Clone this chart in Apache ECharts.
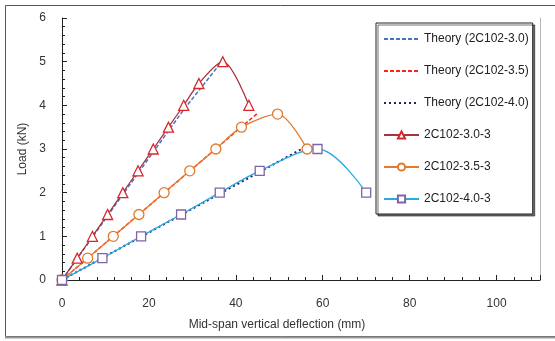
<!DOCTYPE html>
<html>
<head>
<meta charset="utf-8">
<script src="https://cdn.jsdelivr.net/npm/echarts@6/dist/echarts.min.js"></script>
<style>
html,body{margin:0;padding:0;background:#fff;}
#main{width:555px;height:341px;}
</style>
</head>
<body>
<div id="main"></div>
<script>
// measured points (deflection mm, load kN)
var exp30X=[0,3.5,7,10.5,14,17.5,21,24.5,28,31.5,37,43];
var exp30Y=[0,0.5,1,1.5,2,2.5,3,3.5,4,4.5,5,4];
var exp35X=[0,5.9,11.8,17.7,23.5,29.4,35.4,41.3,49.6,56.4];
var exp35Y=[0,0.5,1,1.5,2,2.5,3,3.5,3.8,3.0];
var exp40X=[0,9.3,18.2,27.4,36.3,45.5,58.8,70];
var exp40Y=[0,0.5,1,1.5,2,2.5,3,2];
// theory curves
var th30X=[0,14,28,36.6];
var th30Y=[0,1.96,3.9,4.98];
var th35X=[0,45];
var th35Y=[0,3.82];
var th40X=[0,55.5];
var th40Y=[0,3.02];
var names=['Theory (2C102-3.0)','Theory (2C102-3.5)','Theory (2C102-4.0)','2C102-3.0-3','2C102-3.5-3','2C102-4.0-3'];

function pts(xs,ys){
    return xs.map(function(x,i){return [x,ys[i]];});
}

var font='"Liberation Sans", Arial, sans-serif';
var Myecharts=echarts.init(document.getElementById('main'));
var option={
    animation:false,
    textStyle:{fontFamily:font},
    graphic:[{
        type:'rect',
        shape:{x:5.5,y:5.5,width:570,height:331},
        style:{fill:'none',stroke:'#555',lineWidth:1},
        silent:true
    },{
        type:'line',
        shape:{x1:5,y1:337.5,x2:555,y2:337.5},
        style:{stroke:'#999',lineWidth:2},
        silent:true
    }],
    grid:{left:62,right:15,top:18,bottom:61},
    legend:{
        orient:'vertical',
        left:376,
        top:23,
        padding:[10,4,9,7],
        itemGap:20,
        itemWidth:35,
        itemHeight:9,
        selectedMode:false,
        backgroundColor:'#fff',
        borderColor:'#222',
        borderWidth:1,
        shadowColor:'rgba(0,0,0,0.55)',
        shadowOffsetX:2,
        shadowOffsetY:2,
        shadowBlur:0,
        textStyle:{fontFamily:font,fontSize:12,color:'#222'},
        data:names
    },
    xAxis:[{
        type:'value',
        min:0,max:110,interval:20,
        name:'Mid-span vertical deflection (mm)',
        nameLocation:'middle',
        nameGap:39,
        nameTextStyle:{fontFamily:font,fontSize:12,color:'#333',padding:[0,48,0,0]},
        axisLine:{lineStyle:{color:'#222'}},
        axisTick:{inside:true,length:5,lineStyle:{color:'#222'}},
        minorTick:{show:true,splitNumber:5,length:3,lineStyle:{color:'#222'}},
        axisLabel:{fontFamily:font,fontSize:12,color:'#333',margin:18,showMaxLabel:false},
        splitLine:{show:false}
    }],
    yAxis:[{
        type:'value',
        min:0,max:6,interval:1,
        name:'Load (kN)',
        nameLocation:'middle',
        nameGap:33,
        nameTextStyle:{fontFamily:font,fontSize:12,color:'#333'},
        axisLine:{show:true,lineStyle:{color:'#222'}},
        axisTick:{show:true,inside:true,length:5,lineStyle:{color:'#222'}},
        minorTick:{show:true,splitNumber:5,length:3,lineStyle:{color:'#222'}},
        axisLabel:{fontFamily:font,fontSize:12,color:'#333',margin:16},
        splitLine:{show:false}
    },{
        type:'value',
        min:0,max:6,
        position:'right',
        axisLine:{show:true,lineStyle:{color:'#b5b5b5'}},
        axisTick:{show:false},
        axisLabel:{show:false},
        splitLine:{show:false}
    }],
    series:[{
        name:names[0],
        type:'line',
        data:pts(th30X,th30Y),
        symbol:'circle',
        showSymbol:false,
        z:2,
        lineStyle:{color:'#4472C4',width:1.5,type:[4,2]},
        itemStyle:{color:'rgba(0,0,0,0)'}
    },{
        name:names[1],
        type:'line',
        data:pts(th35X,th35Y),
        symbol:'circle',
        showSymbol:false,
        z:2,
        lineStyle:{color:'#FF2020',width:1.5,type:[4,2]},
        itemStyle:{color:'rgba(0,0,0,0)'}
    },{
        name:names[2],
        type:'line',
        data:pts(th40X,th40Y),
        symbol:'circle',
        showSymbol:false,
        z:2,
        lineStyle:{color:'#1F2460',width:2,type:[2,3]},
        itemStyle:{color:'rgba(0,0,0,0)'}
    },{
        name:names[3],
        type:'line',
        data:pts(exp30X,exp30Y),
        smooth:0.3,
        symbol:'triangle',
        symbolSize:10,
        z:3,
        lineStyle:{color:'#A8333A',width:1.3},
        itemStyle:{color:'#fff',borderColor:'#D7262E',borderWidth:1.3}
    },{
        name:names[4],
        type:'line',
        data:pts(exp35X,exp35Y),
        smooth:0.3,
        symbol:'circle',
        symbolSize:10,
        z:3,
        lineStyle:{color:'#E57A2B',width:1.3},
        itemStyle:{color:'#fff',borderColor:'#E07B2E',borderWidth:1.3}
    },{
        name:names[5],
        type:'line',
        data:pts(exp40X,exp40Y),
        smooth:0.35,
        symbol:'rect',
        symbolSize:9,
        z:3,
        lineStyle:{color:'#2AAAE2',width:1.3},
        itemStyle:{color:'#fff',borderColor:'#8064A8',borderWidth:1.3}
    }]
};
Myecharts.setOption(option);
</script>
</body>
</html>
